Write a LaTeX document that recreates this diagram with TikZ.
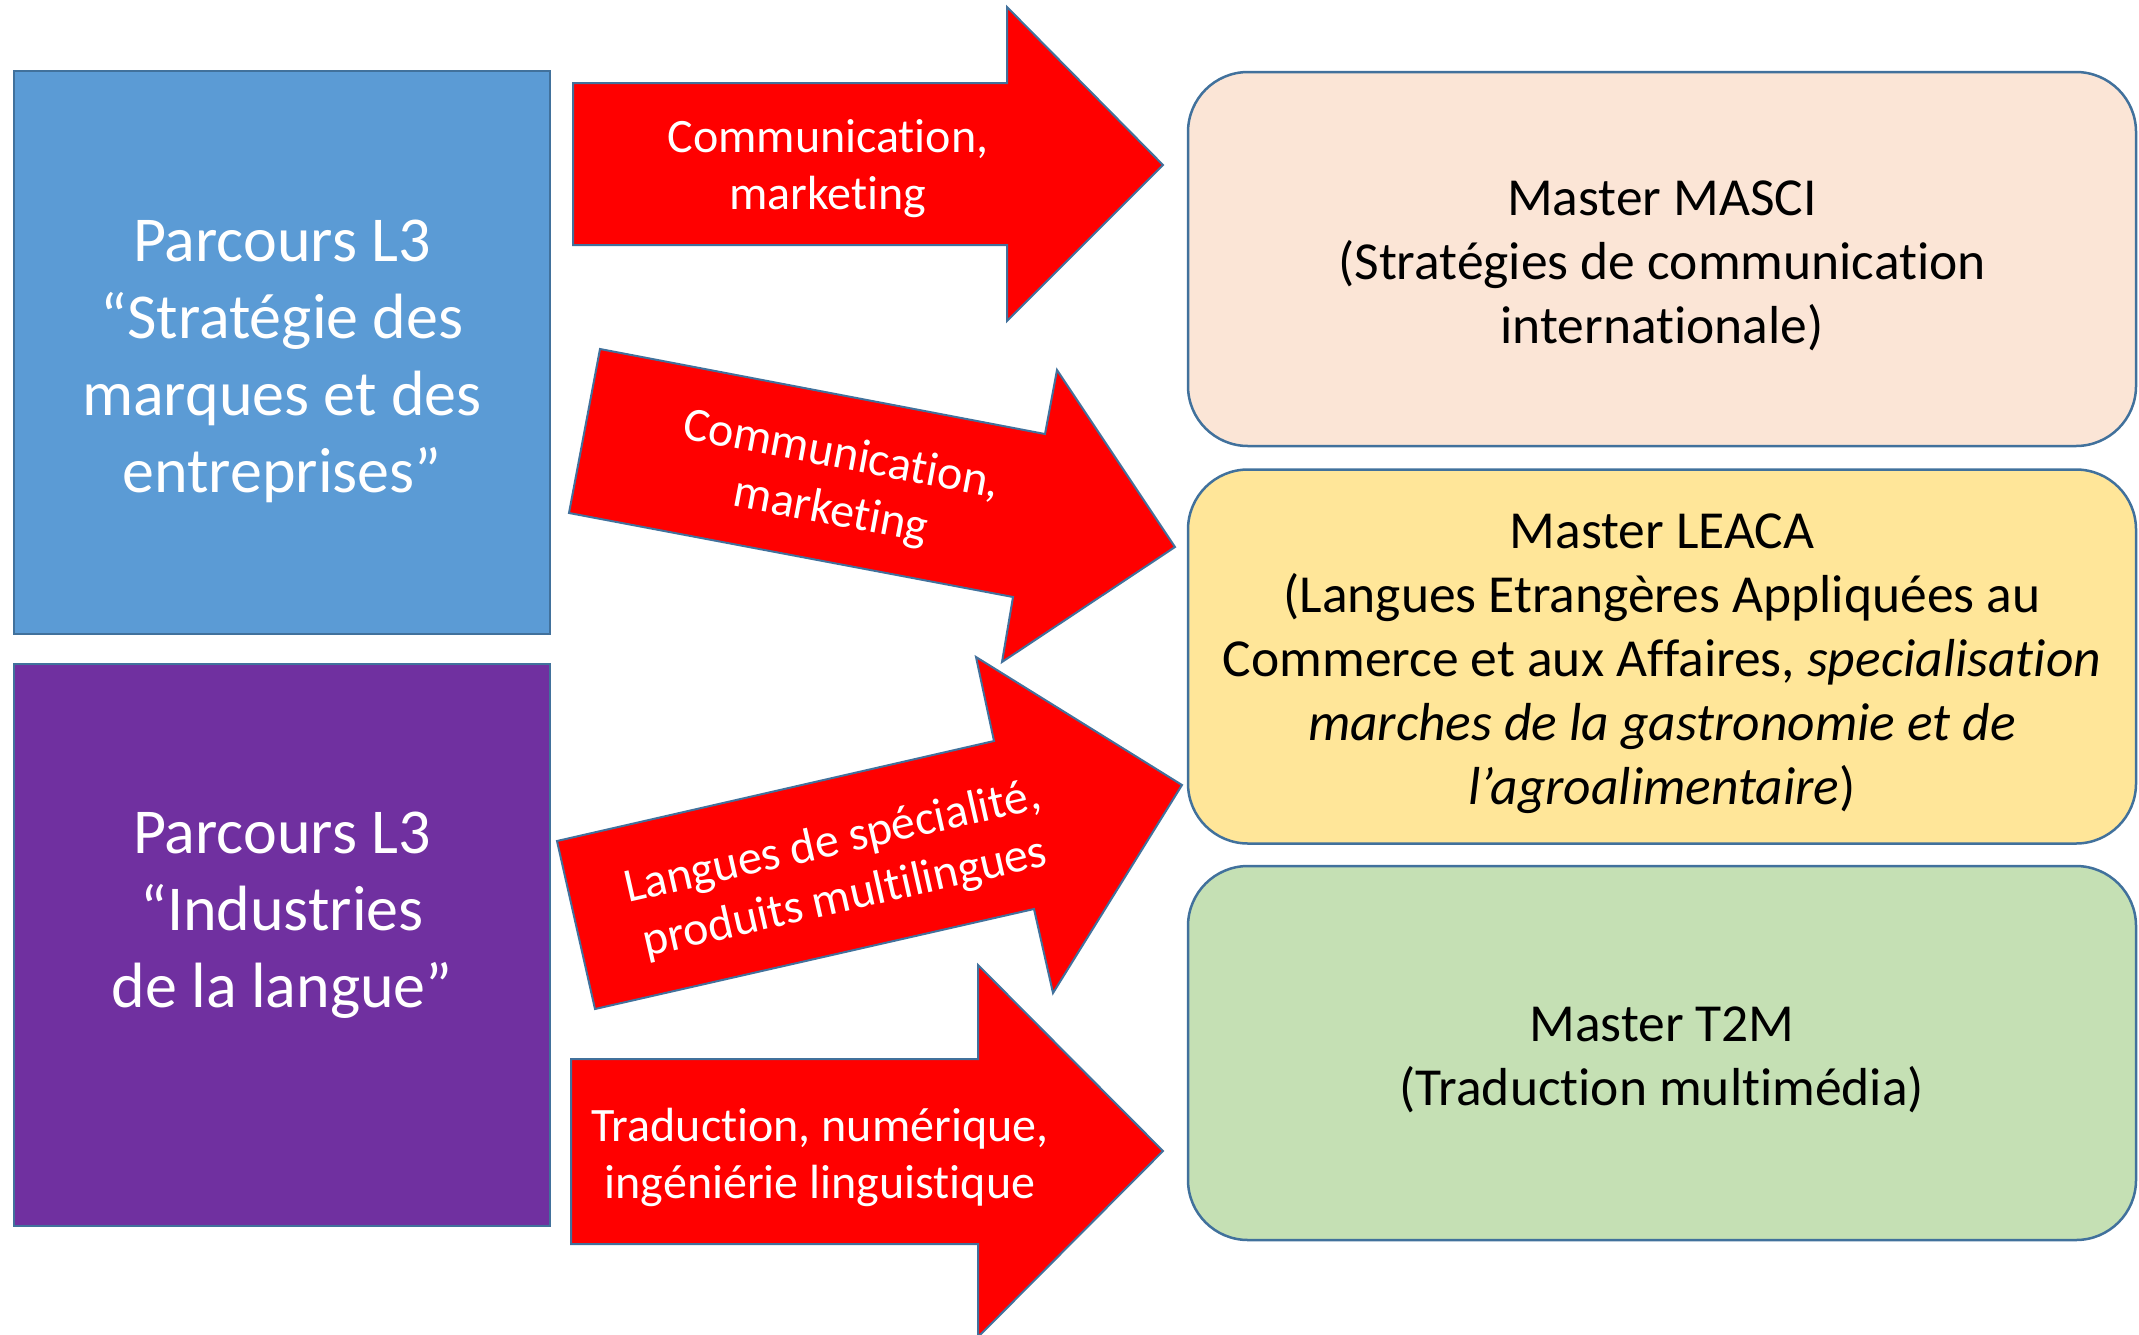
\documentclass[tikz,border=0pt]{standalone}
\usepackage{fontspec}
\setmainfont{Carlito}[Ligatures=NoCommon]
\definecolor{outl}{HTML}{41719C}
\definecolor{bluebox}{HTML}{5B9BD5}
\definecolor{purplebox}{HTML}{7030A0}
\definecolor{peach}{HTML}{FBE5D6}
\definecolor{sand}{HTML}{FFE699}
\definecolor{sage}{HTML}{C5E0B4}
\definecolor{arrowred}{HTML}{FF0000}
\begin{document}
\begin{tikzpicture}[x=1pt,y=-1pt,
  parcours/.style={rectangle, draw=outl, line width=2.5pt, minimum width=536pt, inner sep=0pt},
  master/.style={rectangle, draw=outl, line width=2.5pt, rounded corners=60pt,
    minimum width=948pt, minimum height=374pt, inner sep=0pt},
  blockarrow/.style={fill=arrowred, draw=outl, line width=2pt, line join=miter},
  lefttext/.style={text=white, align=center, font=\fontsize{64}{77}\selectfont},
  righttext/.style={text=black, align=center, font=\fontsize{53.5}{64}\selectfont},
  arrowtext/.style={text=white, align=center, font=\fontsize{48}{57}\selectfont},
]
\useasboundingbox (0,0) rectangle (2139,1334);
\clip (0,0) rectangle (2139,1334);

% Licence tracks (left)
\node[parcours, fill=bluebox, minimum height=563pt] (smark) at (282,352.5) {};
\node[lefttext] (smarkt) at (282,361) {Parcours L3\\“Stratégie des\\marques et des\\entreprises”};
\node[parcours, fill=purplebox, minimum height=562pt] (indus) at (282,945) {};
\node[lefttext] (indust) at (282,915) {Parcours L3\\“Industries\\de la langue”};

% Masters (right)
\node[master, fill=peach] (masci) at (1662,259) {};
\node[righttext] (mascit) at (1662,266) {Master MASCI\\(Stratégies de communication\\internationale)};
\node[master, fill=sand] (leaca) at (1662,656.5) {};
\node[righttext] (leacat) at (1662,663.5) {Master LEACA\\(Langues Etrangères Appliquées au\\Commerce et aux Affaires, \textit{specialisation}\\\textit{marches de la gastronomie et de}\\\textit{l’agroalimentaire})};
\node[master, fill=sage] (t2m) at (1662,1053) {};
\node[righttext] (t2mt) at (1662,1060) {Master T2M\\(Traduction multimédia)};

% Block arrows
\draw[blockarrow] (573,83) -- (1007,83) -- (1007,7) -- (1163,165) -- (1007,321) -- (1007,245) -- (573,245) -- cycle;
\node[arrowtext] (a1) at (828,169) {Communication,\\marketing};

\draw[blockarrow] (600,349) -- (1045,434) -- (1057,370) -- (1175,547) -- (1002,662) -- (1013,597) -- (569,513) -- cycle;
\node[arrowtext, rotate=-10.7] (a2) at (836,484) {Communication,\\marketing};

\draw[blockarrow] (557,841) -- (994,741) -- (976,657) -- (1182,785) -- (1053,993) -- (1034,909) -- (595,1009) -- cycle;
\node[arrowtext, rotate=12.85] (a3) at (839,871) {Langues de spécialité,\\produits multilingues};

\draw[blockarrow] (571,1059) -- (978,1059) -- (978,965) -- (1163,1151) -- (978,1337) -- (978,1244) -- (571,1244) -- cycle;
\node[arrowtext] (a4) at (820,1157) {Traduction, numérique,\\ingéniérie linguistique};
\end{tikzpicture}
\end{document}
